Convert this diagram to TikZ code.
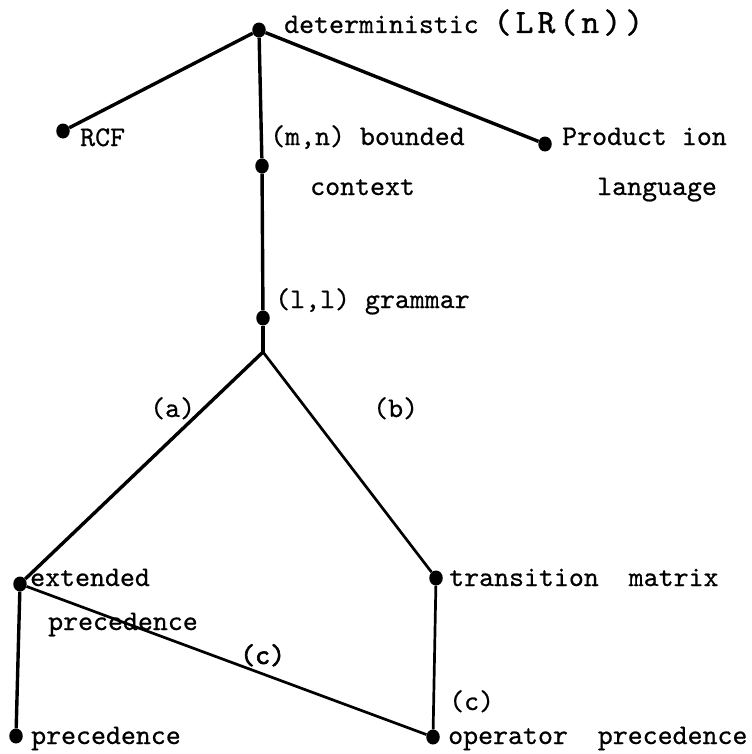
\documentclass[tikz,border=0pt]{standalone}
\usepackage{fontspec}
\usetikzlibrary{shapes.geometric}
\newfontfamily\typewriter{lmmono10-regular.otf}[FakeBold=0.6]
\newfontfamily\typewriterheavy{lmmono10-regular.otf}[FakeBold=2.2]
\newfontfamily\typewriterwide{lmmono10-regular.otf}[FakeBold=1.0,LetterSpace=12]
\begin{document}
\begin{tikzpicture}[x=1bp,y=-1bp,
  dot/.style={ellipse,fill=black,inner sep=0pt,minimum width=13.5bp,minimum height=15bp},
  edge/.style={line width=3.4bp},
  thin edge/.style={line width=2.7bp},
  lbl/.style={anchor=base west,inner sep=0pt,font=\fontsize{28.5bp}{30bp}\typewriter}]
\useasboundingbox (0,0) rectangle (752,754);
% points of the hierarchy
\node[dot] (det) at (259,30) {};
\node[dot] (rcf) at (63,131) {};
\node[dot] (bc) at (262,166) {};
\node[dot] (prod) at (545,144) {};
\node[dot] (g11) at (263,318) {};
\coordinate (split) at (263,352);
\node[dot] (ext) at (20,584) {};
\node[dot] (tm) at (436,578) {};
\node[dot] (prec) at (16,736) {};
\node[dot] (op) at (433,737) {};
% connectors
\draw[edge] (det) -- (rcf);
\draw[edge] (det) -- (bc);
\draw[edge] (det) -- (prod);
\draw[edge] (bc) -- (g11);
\draw[edge] (g11) -- (split);
\draw[edge] (split) -- (ext);
\draw[thin edge] (split) -- (tm);
\draw[edge] (ext) -- (prec);
\draw[thin edge] (ext) -- (op);
\draw[thin edge] (tm) -- (op);
% labels
\node[lbl] (tdet) at (284,33) {deterministic\ {\fontsize{34bp}{34bp}\typewriterwide(LR(n))}};
\node[lbl] (trcf) at (80,146) {RCF};
\node[lbl] (tbc1) at (270,145) {(m,n) bounded};
\node[lbl] (tbc2) at (310,195) {context};
\node[lbl] (tpr1) at (562,145) {Product ion};
\node[lbl] (tpr2) at (597,195) {language};
\node[lbl] (tg) at (275,308) {(l,l) grammar};
\node[lbl] (ta) at (150,417) {(a)};
\node[lbl] (tb) at (373,417) {(b)};
\node[lbl] (text1) at (30,586) {extended};
\node[lbl] (text2) at (48,630) {precedence};
\node[lbl] (tc1) at (240,664) {\typewriterheavy(c)};
\node[lbl] (ttm) at (449,586) {transition\ \ matrix};
\node[lbl] (tc2) at (449,710) {(c)};
\node[lbl] (tprec) at (31,744) {precedence};
\node[lbl] (top) at (448,744) {operator\ \ precedence};
\end{tikzpicture}
\end{document}
